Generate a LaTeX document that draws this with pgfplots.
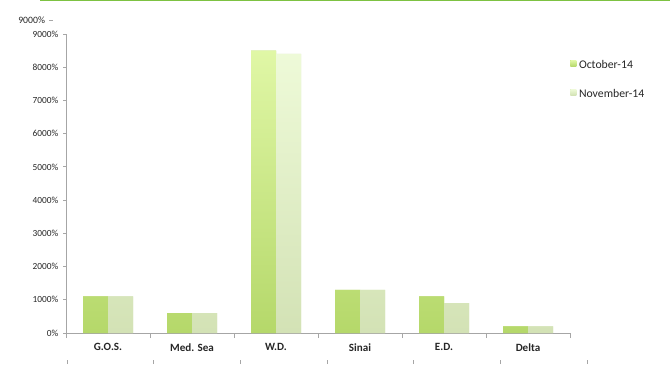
\documentclass[border=0pt]{standalone}
\usepackage{pgfplots}
\pgfplotsset{compat=1.18}
\usepackage{fontspec}
\setmainfont{Carlito}
\definecolor{topgreen}{HTML}{7DC242}
\definecolor{axgray}{HTML}{A6A6A6}
\definecolor{octTop}{HTML}{E0F7A6}
\definecolor{octBot}{HTML}{B5D86A}
\definecolor{novTop}{HTML}{EEFAD8}
\definecolor{novBot}{HTML}{D3E2B5}
\definecolor{txt}{HTML}{262626}
\begin{document}
\begin{tikzpicture}[x=0.75pt,y=0.75pt]
\useasboundingbox (0,0) rectangle (670,383);
\fill[topgreen] (40,381.5) rectangle (670,383);
% ghost axis behind
\begin{axis}[
  at={(67*0.75pt,23*0.75pt)}, anchor=south west, scale only axis,
  width=520*0.75pt, height=340*0.75pt,
  xmin=0, xmax=6, ymin=0, ymax=9000,
  axis x line=bottom, axis y line=left,
  axis line style={draw=none},
  xtick={0,...,6}, xticklabels={},
  ytick={9000}, yticklabels={9000\%},
  tick style={axgray, line width=0.6pt},
  ytick style={xshift=-10.5pt},
  major tick length=3pt,
  tick align=outside,
  yticklabel style={font=\fontsize{7.3}{8}\selectfont, text=txt, xshift=-10pt},
  /pgf/number format/assume math mode=true,
]
\addplot[draw=none] coordinates {(0,0)};
\end{axis}
\begin{axis}[
  at={(66*0.75pt,50*0.75pt)}, anchor=south west, scale only axis,
  width=504*0.75pt, height=299*0.75pt,
  xmin=-0.5, xmax=5.5, ymin=0, ymax=9000,
  axis x line=bottom, axis y line=left,
  axis line style={axgray, line width=0.6pt, -},
  ybar=0pt, bar width=25*0.75pt,
  xtick={0,...,5},
  xticklabels={G.O.S., Med. Sea, W.D., Sinai, E.D., Delta},
  xticklabel style={font=\fontsize{8.3}{9}\selectfont\bfseries, text=txt, yshift=-2pt},
  xtick style={draw=none},
  extra x ticks={-0.5,0.5,...,5.5}, extra x tick labels={},
  extra x tick style={major tick length=3.75pt, xtick style={draw=axgray, line width=0.6pt}},
  ytick={0,1000,...,9000},
  yticklabels={0\%,1000\%,2000\%,3000\%,4000\%,5000\%,6000\%,7000\%,8000\%,9000\%},
  yticklabel style={font=\fontsize{7}{8}\selectfont, text=txt},
  tick align=outside,
  ytick style={axgray, line width=0.6pt},
  major tick length=2.25pt,
  /pgf/number format/assume math mode=true,
  legend style={at={(rel axis cs:1.0,0.93)}, anchor=north west, draw=none, fill=none,
    font=\fontsize{8.8}{10}\selectfont, text=txt, row sep=10pt, inner xsep=0pt,
    /tikz/every even column/.append style={column sep=1pt}},
  legend cell align=left,
  legend image code/.code={\fill[#1] (0cm,-0.02cm) rectangle (0.16cm,0.14cm);},
  clip=false,
]
\addplot[draw=none, top color=octTop, bottom color=octBot, fill=octBot] coordinates {(0,1100) (1,600) (2,8500) (3,1300) (4,1100) (5,200)};
\addplot[draw=none, top color=novTop, bottom color=novBot, fill=novBot] coordinates {(0,1100) (1,600) (2,8400) (3,1300) (4,900) (5,200)};
\legend{October-14, November-14}
\end{axis}
\end{tikzpicture}
\end{document}
